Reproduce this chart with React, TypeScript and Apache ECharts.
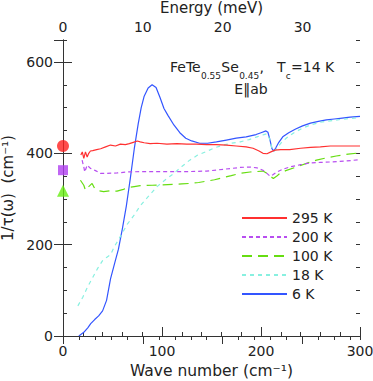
import React, { useEffect, useRef } from "react";
import * as echarts from "echarts";

const FONT = "DejaVu Sans";
const Y_MAX = 648;
const X_MAX = 300;
const CM_PER_MEV = 8.0655;
const E_MAX = X_MAX / CM_PER_MEV;

const seriesNames = ["295 K", "200 K", "100 K", "18 K", "6 K"];

const x295 = [18, 19.5, 21, 22.7, 24.4, 26, 27.7, 30, 34, 38, 43, 48, 53, 58, 63, 67, 71, 75, 78, 82, 88, 95, 105, 115, 125, 135, 145, 155, 165, 175, 185, 192, 198, 202, 206, 210, 214, 220, 229, 240, 250, 260, 270, 285, 300];
const y295 = [396, 403, 389, 403, 392, 400, 405, 406, 408, 410, 414, 418, 416, 420, 419, 421, 424, 427, 425, 423, 421, 422, 420, 421, 420, 420, 419, 419, 418, 416, 414, 411, 405, 400, 399, 403, 407, 408, 408, 411, 413, 414, 416, 416, 416];

const x200 = [19.3, 21, 22, 24.4, 27.7, 30, 32.8, 37.8, 44.5, 54.6, 64.7, 78, 95, 112, 128, 145, 162, 179, 189, 196, 202, 206, 209, 212, 216, 222, 229, 240, 250, 260, 270, 285, 300];
const y200 = [385, 370, 359, 374, 367, 365, 362, 356, 356, 357, 359, 360, 360, 360, 360, 361, 365, 369, 370, 368, 363, 356, 350, 353, 359, 365, 370, 375, 379, 380, 381, 383, 386];

const x100 = [17.6, 21, 22.7, 26, 29.4, 32, 36, 41, 47.9, 54.6, 61, 66.3, 72, 78, 90, 100, 111.7, 120, 128.5, 137, 145, 153, 162, 170, 179, 189, 196, 202, 206, 209, 212.5, 216, 219, 225, 236, 246, 256, 266, 276, 288, 300];
const y100 = [341, 330, 319, 327, 334, 323, 318, 316, 318, 317, 321, 325, 327, 329, 330, 331, 332, 333, 334, 336, 339, 342, 347, 351, 356, 359, 360, 361, 356, 350, 345, 350, 356, 362, 370, 378, 385, 390, 394, 398, 401];

const x18 = [15, 20, 25, 30, 35, 40, 44, 48, 52, 58, 65, 72, 78, 86, 95, 104, 112, 120, 128, 136, 145, 153, 162, 170, 179, 188, 196, 203, 206, 209, 211, 213, 216, 220, 226, 234, 242, 250, 260, 270, 280, 290, 300];
const y18 = [66, 85, 108, 128, 148, 165, 172, 178, 196, 218, 245, 265, 285, 305, 327, 343, 356, 371, 385, 396, 404, 412, 418, 422, 425, 430, 436, 441, 443, 430, 412, 404, 410, 422, 434, 446, 455, 462, 468, 471, 474, 476, 478];

const x6 = [16, 21, 25, 28, 32, 36, 40, 44, 48, 52, 56, 60, 64, 68, 72, 76, 79, 82, 86, 90, 94, 98, 102, 106, 112, 118, 124, 130, 138, 146, 155, 165, 175, 185, 195, 200, 205, 207, 209, 211, 213, 215, 218, 222, 228, 235, 242, 250, 258, 266, 274, 282, 290, 300];
const y6 = [0, 8, 18, 27, 36, 44, 55, 78, 125, 158, 190, 235, 285, 345, 410, 465, 500, 525, 543, 550, 544, 522, 498, 483, 462, 445, 433, 427, 422, 422, 425, 429, 433, 436, 441, 445, 449, 446, 430, 410, 405, 412, 424, 436, 445, 453, 460, 466, 470, 473, 475, 477, 479, 481];

// DC values at zero frequency
const dcValues = [416, 363, 318];

// title pieces: [text, isSubscript]
const titlePieces: [string, boolean][] = [
  ["FeTe", false], ["0.55", true], ["Se", false], ["0.45", true], [",", false], ["T", false], ["c", true], ["=14 K", false],
];
const subtitle = "E\u2016ab";

const colors = ["#ff3030", "#b84ef0", "#66dd11", "#88f0e0", "#3355ff"];
const markerColors = ["#ff2020", "#b040f0", "#66ee11"];
const dashes: any[] = ["solid", [4, 3], [10, 6], [4, 4], "solid"];

const xsAll = [x295, x200, x100, x18, x6];
const ysAll = [y295, y200, y100, y18, y6];

const axisColor = "#333";
const labelColor = "#222";

export default function App() {
  const ref = useRef<HTMLDivElement>(null);
  useEffect(() => {
    document.body.style.margin = "0";
    if (!ref.current) return;
    const chart = echarts.init(ref.current, undefined, { renderer: "svg" });

    const lineSeries = seriesNames.map((name, i) => ({
      name,
      type: "line",
      xAxisIndex: 0,
      yAxisIndex: 0,
      symbol: "none",
      smooth: false,
      lineStyle: { color: colors[i], width: 1.2, type: dashes[i] },
      itemStyle: { color: colors[i] },
      data: xsAll[i].map((x, k) => [x, ysAll[i][k]]),
      z: 10 - i,
    }));

    const markerShapes = ["circle", "rect", "triangle"];
    const markerSizes = [12, 10, 12];
    const markerSeries = dcValues.map((v, i) => ({
      name: "dc" + i,
      type: "scatter",
      xAxisIndex: 0,
      yAxisIndex: 0,
      clip: false,
      symbol: markerShapes[i],
      symbolSize: markerSizes[i],
      itemStyle: { color: markerColors[i] },
      data: [[0, v]],
      z: 20,
    }));

    const commonLabel = { fontFamily: FONT, fontSize: 14, color: labelColor };

    // measure title pieces to chain them horizontally
    const ctx = document.createElement("canvas").getContext("2d") as CanvasRenderingContext2D;
    const measure = (t: string, size: number) => {
      ctx.font = `${size}px "${FONT}"`;
      return ctx.measureText(t).width;
    };
    let cursor = 170;
    const titleGraphics = titlePieces.map(([t, sub]) => {
      const size = sub ? 9 : 14;
      const el = {
        type: "text",
        x: cursor,
        y: sub ? 75.5 : 66.5,
        style: {
          text: t,
          align: "left",
          verticalAlign: "middle",
          fontFamily: FONT,
          fontSize: size,
          fill: labelColor,
        },
      };
      cursor += measure(t, size) + (t === "," ? 13 : 0.3);
      return el;
    });

    chart.setOption({
      animation: false,
      textStyle: { fontFamily: FONT },
      grid: { left: 63, right: 13, top: 40, bottom: 45, containLabel: false, outerBoundsMode: "none" },
      legend: {
        data: seriesNames,
        orient: "vertical",
        left: 236,
        top: 206,
        itemWidth: 45,
        itemHeight: 14,
        itemGap: 5,
        itemStyle: { opacity: 0 },
        textStyle: { ...commonLabel },
      },
      graphic: [
        ...titleGraphics,
        {
          type: "text",
          x: 251,
          y: 89,
          style: {
            text: subtitle,
            align: "center",
            verticalAlign: "middle",
            fontFamily: FONT,
            fontSize: 14,
            fill: labelColor,
          },
        },
      ],
      xAxis: [
        {
          type: "value",
          position: "bottom",
          min: 0,
          max: X_MAX,
          interval: 100,
          name: "Wave number (cm\u207B\u00B9)",
          nameLocation: "middle",
          nameGap: 27,
          nameTextStyle: { fontFamily: FONT, fontSize: 15.5, color: labelColor },
          axisLine: { show: true, lineStyle: { color: axisColor, width: 1 } },
          axisTick: { show: true, inside: true, length: 9, lineStyle: { color: axisColor } },
          minorTick: { show: true, splitNumber: 5, length: 4, lineStyle: { color: axisColor } },
          splitLine: { show: false },
          minorSplitLine: { show: false },
          axisLabel: { ...commonLabel, margin: 8 },
        },
        {
          type: "value",
          position: "top",
          min: 0,
          max: E_MAX,
          interval: 10,
          name: "Energy (meV)",
          nameLocation: "middle",
          nameGap: 23,
          nameTextStyle: { fontFamily: FONT, fontSize: 15, color: labelColor },
          axisLine: { show: true, lineStyle: { color: axisColor, width: 1 } },
          axisTick: { show: true, inside: true, length: 8, lineStyle: { color: axisColor } },
          splitLine: { show: false },
          axisLabel: { ...commonLabel, margin: 6, showMaxLabel: false, formatter: (v: number) => String(Math.round(v)) },
        },
        {
          type: "value",
          position: "top",
          min: 0,
          max: E_MAX,
          interval: 2,
          axisLine: { show: false },
          axisTick: { show: true, inside: true, length: 4, lineStyle: { color: axisColor } },
          splitLine: { show: false },
          axisLabel: { show: false },
        },
      ],
      yAxis: [
        {
          type: "value",
          position: "left",
          min: 0,
          max: Y_MAX,
          interval: 200,
          name: "1/\u03C4(\u03C9)  (cm\u207B\u00B9)",
          nameLocation: "middle",
          nameGap: 40,
          nameTextStyle: { fontFamily: FONT, fontSize: 15, color: labelColor },
          axisLine: { show: true, lineStyle: { color: axisColor, width: 1 } },
          axisTick: { show: true, inside: true, length: 9, lineStyle: { color: axisColor } },
          splitLine: { show: false },
          axisLabel: { ...commonLabel, margin: 10, showMaxLabel: false },
        },
        {
          type: "value",
          position: "left",
          min: 0,
          max: Y_MAX,
          interval: 50,
          axisLine: { show: false },
          axisTick: { show: true, inside: true, length: 4, lineStyle: { color: axisColor } },
          splitLine: { show: false },
          axisLabel: { show: false },
        },
        {
          type: "value",
          position: "right",
          min: 0,
          max: Y_MAX,
          interval: 200,
          axisLine: { show: true, lineStyle: { color: axisColor, width: 1 } },
          axisTick: { show: true, inside: true, length: 9, lineStyle: { color: axisColor } },
          splitLine: { show: false },
          axisLabel: { show: false },
        },
        {
          type: "value",
          position: "right",
          min: 0,
          max: Y_MAX,
          interval: 50,
          axisLine: { show: false },
          axisTick: { show: true, inside: true, length: 4, lineStyle: { color: axisColor } },
          splitLine: { show: false },
          axisLabel: { show: false },
        },
      ],
      series: [...lineSeries, ...markerSeries],
    });
    return () => chart.dispose();
  }, []);
  return <div ref={ref} style={{ width: 373, height: 381 }} />;
}
